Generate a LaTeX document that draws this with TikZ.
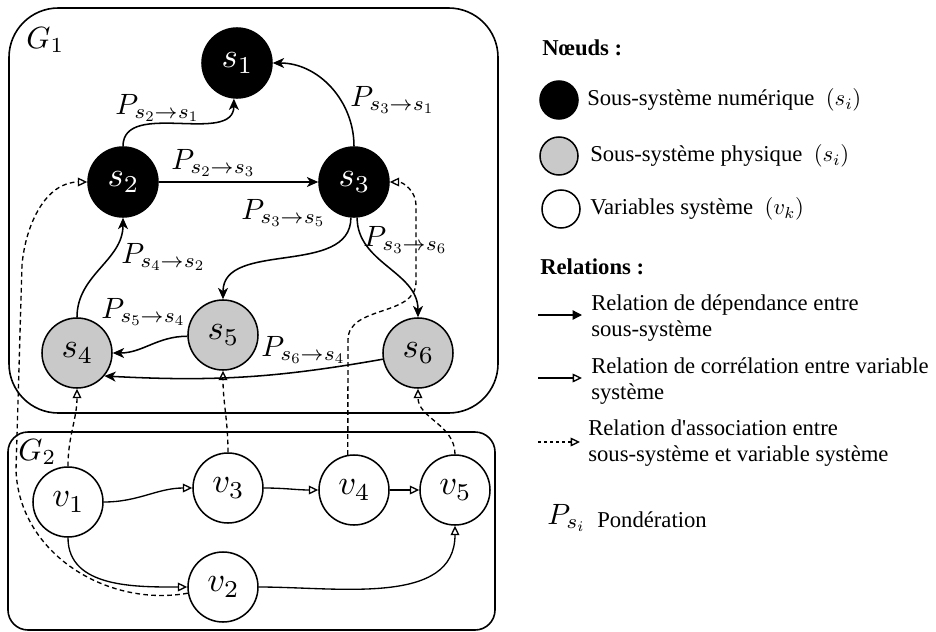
\documentclass[tikz,border=0pt]{standalone}
\usepackage[no-math]{fontspec}
\setmainfont{Liberation Serif}
\usetikzlibrary{arrows.meta}
\DeclareFontShape{OML}{cmm}{m}{it}{<-16.5> cmmi7 <16.5-17.5> cmmi10 <17.5-19.5> cmmi7 <19.5-> cmmi10}{\skewchar\font127 }
\DeclareFontShape{OMS}{cmsy}{m}{n}{<-16.5> cmsy7 <16.5-17.5> cmsy10 <17.5-19.5> cmsy7 <19.5-> cmsy10}{\skewchar\font48 }
\DeclareFontShape{OT1}{cmr}{m}{n}{<-16.5> cmr7 <16.5-17.5> cmr10 <17.5-19.5> cmr7 <19.5-> cmr10}{}
\newcommand\nodemath{\fontsize{26}{30}\selectfont}
\newcommand\lblmath{\fontsize{22}{26}\selectfont}
\newcommand\gmath{\fontsize{23}{27}\selectfont}
\newcommand\legtext{\fontsize{17}{20}\selectfont}
\newcommand\legbold{\fontsize{17}{20}\selectfont\bfseries}
\begin{document}
\begin{tikzpicture}[x=0.75pt,y=0.75pt,
  base/.style={circle, draw=black, line width=1.15pt, minimum size=52.5pt, inner sep=0pt, font=\nodemath},
  dig/.style={base, fill=black, text=white},
  phy/.style={base, fill=black!21},
  var/.style={base, fill=white},
  lbl/.style={font=\lblmath, inner sep=0pt},
  glbl/.style={font=\gmath, inner sep=0pt},
  leg/.style={font=\legtext, inner sep=0pt, anchor=west, align=left},
  box/.style={draw=black, line width=1.2pt},
  dep/.style={-{Stealth[length=8.5pt,width=7.5pt,inset=2.4pt]}, line width=1.15pt},
  cor/.style={-{Triangle[open,length=7pt,width=6.5pt]}, line width=1pt},
  assoc/.style={cor, dash pattern=on 3.5pt off 2.5pt}
]
\useasboundingbox (0,0) rectangle (936,-632);
% boxes
\draw[box, rounded corners=37pt] (9,-8) rectangle (498,-413);
\draw[box, rounded corners=15pt] (8,-432) rectangle (495,-630);
\node[glbl] (g1) at (45,-40) {$G_1$};
\node[glbl] (g2) at (37,-452) {$G_2$};
% nodes
\node[dig] (s1) at (237,-63) {$s_1$};
\node[dig] (s2) at (123,-182) {$s_2$};
\node[dig] (s3) at (354,-182) {$s_3$};
\node[phy] (s4) at (77,-353) {$s_4$};
\node[phy] (s5) at (223,-335) {$s_5$};
\node[phy] (s6) at (418,-353) {$s_6$};
\node[var] (v1) at (68,-502) {$v_1$};
\node[var] (v3) at (228,-488) {$v_3$};
\node[var] (v4) at (354,-490) {$v_4$};
\node[var] (v5) at (455,-490) {$v_5$};
\node[var] (v2) at (223,-587) {$v_2$};
% dependency edges
\draw[dep] (s2.north) to[out=90,in=-90] (s1.265);
\draw[dep] (s3.north) to[out=90,in=0] (s1.east);
\draw[dep] (s2.east) -- (s3.west);
\draw[dep] (s3.265) to[out=-90,in=90] (s5.north);
\draw[dep] (s3.275) to[out=-90,in=90] (s6.north);
\draw[dep] (s4.north) to[out=90,in=-90] (s2.south);
\draw[dep] (s5.182) to[out=180,in=0] (s4.east);
\draw[dep] (s6.190) to[out=190,in=-3] (s4.-40);
% labels
\node[lbl] (p21) at (157,-108) {$P_{s_2\to s_1}$};
\node[lbl] (p31) at (392,-100) {$P_{s_3\to s_1}$};
\node[lbl] (p23) at (213,-163) {$P_{s_2\to s_3}$};
\node[lbl] (p35) at (283,-213) {$P_{s_3\to s_5}$};
\node[lbl] (p36) at (405,-240) {$P_{s_3\to s_6}$};
\node[lbl] (p42) at (163,-257) {$P_{s_4\to s_2}$};
\node[lbl] (p54) at (143,-312) {$P_{s_5\to s_4}$};
\node[lbl] (p64) at (303,-350) {$P_{s_6\to s_4}$};
% correlation edges
\draw[cor] (v1.east) to[out=0,in=180] (v3.west);
\draw[cor] (v3.east) to[out=0,in=180] (v4.west);
\draw[cor] (v4.east) -- (v5.west);
\draw[cor] (v1.south) to[out=-90,in=180] (v2.west);
\draw[cor] (v2.east) to[out=0,in=-90] (v5.south);
% association edges
\draw[assoc] (v1.north) to[out=90,in=-90] (s4.south);
\draw[assoc] (v3.north) to[out=90,in=-90] (s5.south);
\draw[assoc] (v5.north) to[out=90,in=-90] (s6.south);
\coordinate (b1) at (348,-340);
\coordinate (b2) at (416,-282);
\coordinate (b3) at (416,-205);
\draw[assoc] (v4.100) -- (b1) to[out=90,in=-90] (b2) -- (b3) to[out=90,in=0] (s3.east);
\coordinate (a1) at (16,-470);
\coordinate (a2) at (22,-265);
\draw[assoc] (v2.190) to[out=190,in=-88] (a1) -- (a2) to[out=85,in=180] (s2.west);
% legend
\node[font=\legbold, inner sep=0pt, anchor=west] (hn) at (542,-48) {Nœuds :};
\node[dig, minimum size=28.5pt] (c1) at (559,-100) {};
\node[phy, minimum size=28.5pt] (c2) at (559,-156) {};
\node[var, minimum size=28.5pt] (c3) at (561,-209) {};
\node[leg] (t1) at (587,-100) {Sous-système numérique \ $(s_i)$};
\node[leg] (t2) at (590,-156) {Sous-système physique \ $(s_i)$};
\node[leg] (t3) at (590,-209) {Variables système \ $(v_k)$};
\node[font=\legbold, inner sep=0pt, anchor=west] (hr) at (540,-267) {Relations :};
\coordinate (l1a) at (538,-315);
\coordinate (l1b) at (582,-315);
\draw[line width=1pt, -{Triangle[length=7pt,width=7pt]}] (l1a) -- (l1b);
\node[leg] (t4) at (591,-318) {Relation de dépendance entre\\sous-système};
\coordinate (l2a) at (538,-378);
\coordinate (l2b) at (582,-378);
\draw[cor] (l2a) -- (l2b);
\node[leg] (t5) at (591,-381) {Relation de corrélation entre variable\\système};
\coordinate (l3a) at (538,-442);
\coordinate (l3b) at (580,-442);
\draw[cor, dash pattern=on 2.5pt off 2pt] (l3a) -- (l3b);
\node[leg] (t6) at (588,-443) {Relation d\textquotesingle association entre\\sous-système et variable système};
\node[lbl] (pl) at (566,-518) {$P_{s_i}$};
\node[leg] (tp) at (597,-520) {Pondération};
\end{tikzpicture}
\end{document}
